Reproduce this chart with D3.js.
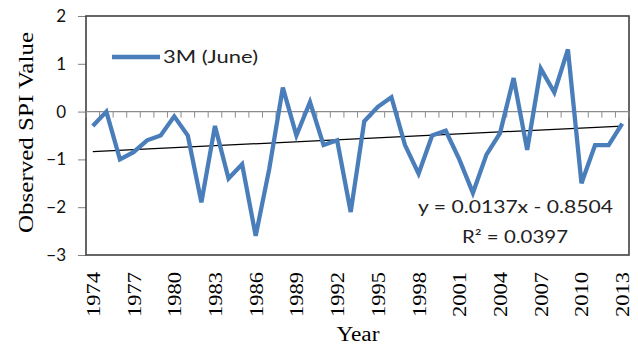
<!DOCTYPE html>
<html>
<head>
<meta charset="utf-8">
<script src="https://cdn.jsdelivr.net/npm/d3@7"></script>
<style>
  html, body { margin: 0; padding: 0; background: #fff; }
  svg { display: block; }
</style>
</head>
<body>
<svg id="chart" width="638" height="348"></svg>
<script>
// June 3-month SPI series, 1974–2013
const years = d3.range(1974, 2014);
const spi = [
  -0.3, 0.0, -1.0, -0.85, -0.6, -0.5, -0.1, -0.5, -1.9, -0.3,
  -1.4, -1.1, -2.6, -1.2, 0.5, -0.5, 0.2, -0.7, -0.6, -2.1,
  -0.2, 0.1, 0.3, -0.7, -1.3, -0.5, -0.4, -1.0, -1.7, -0.9,
  -0.45, 0.7, -0.8, 0.9, 0.4, 1.3, -1.5, -0.7, -0.7, -0.25
];
const yTicks = [2, 1, 0, -1, -2, -3];
const xLabelYears = d3.range(1974, 2014, 3);
// Linear trend fitted on index 1..n
const trendSlope = 0.0137;
const trendIntercept = -0.8504;
const trendR2 = 0.0397;
const seriesName = "3M (June)";

const sans = "Lato, 'Liberation Sans', sans-serif";
const serif = "'Liberation Serif', 'Times New Roman', serif";

const svg = d3.select("#chart");
const plot = { left: 86, right: 629, top: 16, bottom: 255 };

const x = d3.scaleBand().domain(years).range([plot.left, plot.right]);
const xc = d => x(d) + x.bandwidth() / 2;
const y = d3.scaleLinear().domain([-3, 2]).range([plot.bottom, plot.top]);

// Left value axis
const yAxis = svg.append("g")
  .attr("transform", `translate(${plot.left},0)`)
  .call(d3.axisLeft(y).tickValues(yTicks).tickSize(8).tickPadding(12).tickFormat(d3.format("d")));
yAxis.select(".domain").remove();
yAxis.selectAll(".tick line").attr("stroke", "#808080");
yAxis.selectAll(".tick text")
  .attr("font-family", sans)
  .attr("font-size", 17).attr("fill", "#111");

// Frame
svg.append("rect")
  .attr("x", plot.left).attr("y", plot.top)
  .attr("width", plot.right - plot.left).attr("height", plot.bottom - plot.top)
  .attr("fill", "none").attr("stroke", "#404040").attr("stroke-width", 1.6);

// Horizontal category axis crossing at zero
const zeroAxis = svg.append("g").attr("transform", `translate(0,${y(0)})`);
zeroAxis.append("line")
  .attr("x1", plot.left).attr("x2", plot.right)
  .attr("stroke", "#8c8c8c").attr("stroke-width", 1.2);
const boundaries = years.map(d => x(d)).concat([plot.right]);
zeroAxis.selectAll("line.tk").data(boundaries).join("line")
  .attr("class", "tk")
  .attr("x1", d => d).attr("x2", d => d)
  .attr("y1", 0).attr("y2", 6)
  .attr("stroke", "#8c8c8c").attr("stroke-width", 1);

// Year labels along the bottom, rotated
svg.append("g").selectAll("text").data(xLabelYears).join("text")
  .attr("transform", d => `translate(${xc(d) + 7},317) rotate(-90)`)
  .attr("text-anchor", "start")
  .attr("font-family", serif)
  .attr("font-size", 18).attr("fill", "#000")
  .attr("textLength", 45).attr("lengthAdjust", "spacingAndGlyphs")
  .text(d => d);

// Trend line
const trendY = i => trendSlope * i + trendIntercept;
svg.append("line")
  .attr("x1", xc(years[0])).attr("y1", y(trendY(1)))
  .attr("x2", xc(years[years.length - 1])).attr("y2", y(trendY(years.length)))
  .attr("stroke", "#000").attr("stroke-width", 1.2);

// Series line
const line = d3.line().x((d, i) => xc(years[i])).y(d => y(d));
svg.append("path")
  .datum(spi)
  .attr("d", line)
  .attr("fill", "none")
  .attr("stroke", "#4a7ebb")
  .attr("stroke-width", 4.3)
  .attr("stroke-linejoin", "miter")
  .attr("stroke-linecap", "butt");

// Legend
const lg = svg.append("g").attr("transform", "translate(112,57)");
lg.append("line").attr("x1", 0).attr("x2", 48).attr("y1", 0).attr("y2", 0)
  .attr("stroke", "#4a7ebb").attr("stroke-width", 4.3);
lg.append("text").attr("x", 51).attr("y", 6)
  .attr("font-family", sans)
  .attr("font-size", 17).attr("fill", "#222")
  .attr("textLength", 95).attr("lengthAdjust", "spacingAndGlyphs")
  .text(seriesName);

// Trend equation
const eq = svg.append("g")
  .attr("font-family", sans)
  .attr("font-size", 17).attr("fill", "#222");
eq.append("text").attr("x", 418).attr("y", 213)
  .attr("textLength", 195).attr("lengthAdjust", "spacingAndGlyphs")
  .text(`y = ${trendSlope}x - ${Math.abs(trendIntercept).toFixed(4)}`);
eq.append("text").attr("x", 462).attr("y", 243)
  .attr("textLength", 106).attr("lengthAdjust", "spacingAndGlyphs")
  .text(`R\u00B2 = ${trendR2}`);

// Axis titles
svg.append("text")
  .attr("transform", `translate(33,${(plot.top + plot.bottom) / 2 - 3}) rotate(-90)`)
  .attr("text-anchor", "middle")
  .attr("font-family", serif)
  .attr("font-size", 22).attr("fill", "#000")
  .attr("textLength", 201).attr("lengthAdjust", "spacingAndGlyphs")
  .text("Observed SPI Value");
svg.append("text")
  .attr("x", 358).attr("y", 341)
  .attr("text-anchor", "middle")
  .attr("font-family", serif)
  .attr("font-size", 20).attr("fill", "#000")
  .attr("textLength", 43).attr("lengthAdjust", "spacingAndGlyphs")
  .text("Year");
</script>
</body>
</html>
